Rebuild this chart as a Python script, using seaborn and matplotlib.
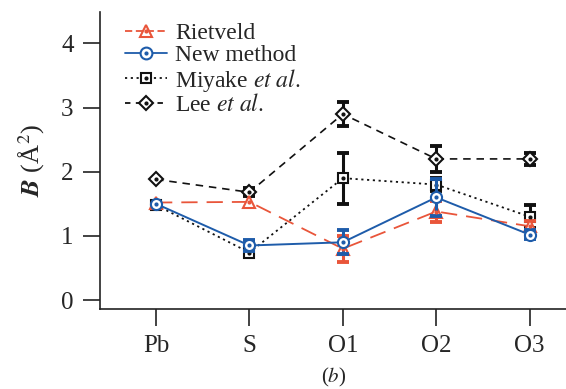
import numpy as np
import pandas as pd
import seaborn as sns
import matplotlib
matplotlib.use("Agg")
import matplotlib.pyplot as plt
from matplotlib.lines import Line2D

sites = ["Pb", "S", "O1", "O2", "O3"]
rietveld = [1.52, 1.53, 0.80, 1.38, 1.15]
rietveld_err = [0.0, 0.0, 0.20, 0.17, 0.08]
newmethod = [1.50, 0.85, 0.90, 1.60, 1.02]
newmethod_err = [0.0, 0.08, 0.19, 0.29, 0.07]
miyake = [1.48, 0.74, 1.90, 1.80, 1.30]
miyake_err = [0.0, 0.0, 0.40, 0.10, 0.18]
lee = [1.88, 1.68, 2.90, 2.20, 2.20]
lee_err = [0.0, 0.06, 0.19, 0.20, 0.10]

red = "#E9553A"
blue = "#1E5CAA"
black = "#111111"

sns.set_style("ticks")
plt.rcParams["font.family"] = ["Liberation Serif", "DejaVu Serif"]
plt.rcParams["mathtext.fontset"] = "stix"

fig = plt.figure(figsize=(5.66, 3.89), dpi=100)
ax = fig.add_axes([0.1767, 0.2057, 0.8233, 0.7633])

series = [
    ("Lee", lee, lee_err, black, (0, (4.5, 3.5)), "D", 7.5, 1.2),
    ("Miyake", miyake, miyake_err, black, (0, (1.2, 2)), "s", 7, 1.3),
    ("Rietveld", rietveld, rietveld_err, red, (0, (9, 5)), "^", 8, 1.3),
    ("New", newmethod, newmethod_err, blue, "-", "o", 8, 1.4),
]

xpos = np.arange(len(sites))
for i, (name, vals, errs, col, ls, mk, ms, lw) in enumerate(series):
    df = pd.DataFrame({"site": sites, "B": vals})
    errs = np.array(errs)
    mask = errs > 0
    ax.errorbar(xpos[mask], np.array(vals)[mask], yerr=errs[mask], fmt="none",
                ecolor=col, elinewidth=2.2, capsize=4, capthick=2.8, zorder=2 + i)
    sns.lineplot(data=df, x="site", y="B", ax=ax, color=col, linestyle=ls,
                 linewidth=lw, marker=mk, markersize=ms, markerfacecolor="white",
                 markeredgecolor=col, markeredgewidth=1.5, zorder=3 + i, sort=False)
    ax.plot(xpos, vals, linestyle="none", marker="o", markersize=2,
            color=col, zorder=4 + i)

ax.set_xlim(-0.6, 4.39)
ax.set_ylim(-0.14, 4.49)
ax.set_xticks(xpos)
ax.set_xticklabels(sites)
ax.set_yticks([0, 1, 2, 3, 4])
ax.set_xlabel("")
ax.set_ylabel(r"$\boldsymbol{B}$ (Å$^{2}$)", fontsize=19, labelpad=10)
ax.tick_params(axis="both", labelsize=18, length=12, width=1.2, color="#222222",
               direction="out", pad=7)
for s in ["top", "right"]:
    ax.spines[s].set_visible(False)
for s in ["left", "bottom"]:
    ax.spines[s].set_linewidth(1.2)
    ax.spines[s].set_color("#222222")

def handle(col, ls, mk, ms):
    l1 = Line2D([], [], color=col, linestyle=ls, linewidth=1.3, marker=mk,
                markersize=ms, markerfacecolor="white", markeredgecolor=col,
                markeredgewidth=1.5)
    l2 = Line2D([], [], color=col, linestyle="none", marker="o", markersize=2)
    return (l1, l2)

handles = [handle(red, (0, (4, 2)), "^", 8.5), handle(blue, "-", "o", 8.5),
           handle(black, (0, (1.2, 2)), "s", 7.5), handle(black, (0, (3, 3)), "D", 7)]
labels = ["Rietveld", "New method", r"Miyake $\it{et\ al.}$", r"Lee $\it{et\ al.}$"]
ax.legend(handles, labels, loc="upper left", bbox_to_anchor=(0.03, 1.0),
          frameon=False, fontsize=17, handlelength=1.8, handletextpad=0.35,
          labelspacing=0.02, borderaxespad=0.05)

fig.text(0.59, 0.0, r"($\it{b}$)", fontsize=15, ha="center", va="bottom")

fig.savefig("out.png", dpi=100)
